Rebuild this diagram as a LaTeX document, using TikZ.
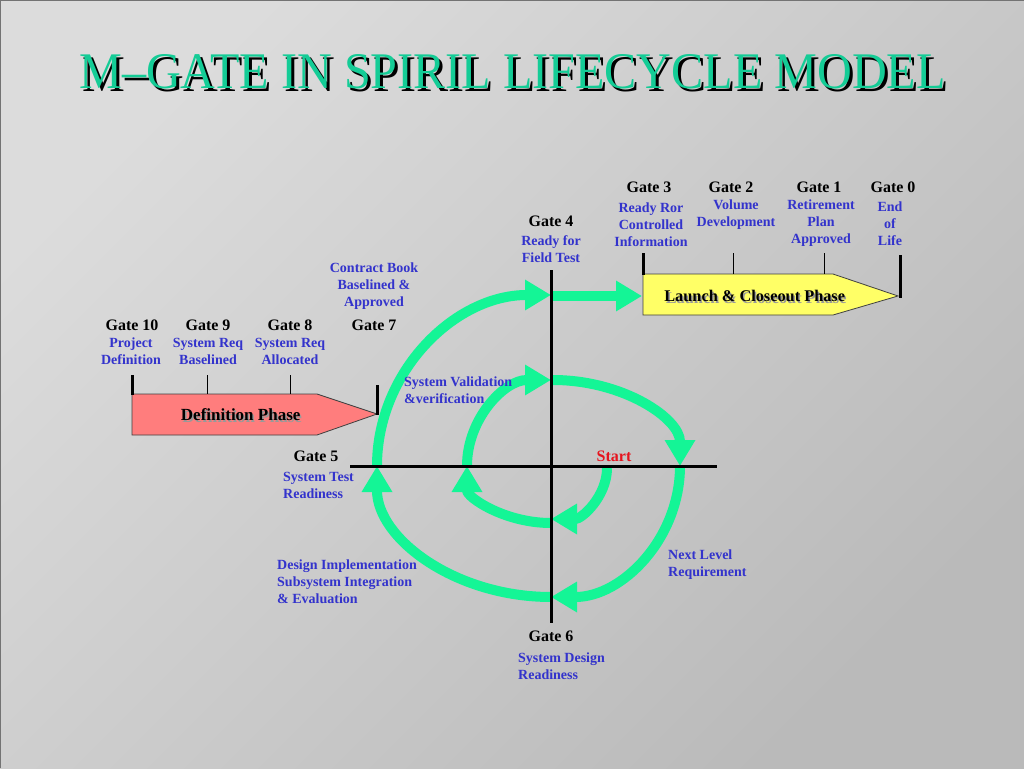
\documentclass[tikz,border=0pt]{standalone}
\usepackage{graphicx}
\usepackage{fontspec}
\setmainfont{Liberation Serif}
\usetikzlibrary{arrows.meta}
\definecolor{bluetxt}{RGB}{51,51,204}
\definecolor{spiral}{RGB}{20,245,150}
\definecolor{titlec}{RGB}{20,204,150}
\definecolor{pinkph}{RGB}{255,125,125}
\definecolor{yellowph}{RGB}{255,255,102}
\definecolor{redtxt}{RGB}{230,20,30}
\definecolor{bgtl}{RGB}{220,220,220}
\definecolor{bgbr}{RGB}{186,186,186}
\newcommand{\shadowtext}[4]{\makebox[0pt][l]{\hspace*{#2}\raisebox{-#2}{\color{#1}#4}}{\color{#3}#4}}
\newcommand{\ttltext}{\resizebox{866pt}{34pt}{M–GATE IN SPIRIL LIFECYCLE MODEL}}
\begin{document}
\begin{tikzpicture}[x=1pt,y=-1pt,
  gate/.style={font=\fontsize{16}{19}\selectfont\bfseries, text=black, inner sep=0pt},
  desc/.style={font=\fontsize{14}{17}\selectfont\bfseries, text=bluetxt, inner sep=0pt, align=center},
  descl/.style={desc, align=left, anchor=west},
  spir/.style={draw=spiral, line width=10pt, -{Triangle[width=29pt,length=26pt]}},
  axisline/.style={draw=black, line width=3pt},
  thickbar/.style={draw=black, line width=3pt},
  thinbar/.style={draw=black, line width=0.8pt},
  phase/.style={draw=black!75, line width=0.8pt},
  phtext/.style={font=\fontsize{17}{20}\selectfont\bfseries, inner sep=0pt},
  ttl/.style={inner sep=0pt}
]
\useasboundingbox (0,0) rectangle (1024,768);
\shade[shading=axis, top color=bgtl, bottom color=bgbr, shading angle=45] (0,0) rectangle (1024,768);
\draw[black!55, line width=1pt] (0.5,768) -- (0.5,0.5) -- (1024,0.5);

% title (with its shadow in the same node)
\node[ttl] (title) at (512.5,73.5) {\shadowtext{black}{3pt}{titlec}{\ttltext}};

% coordinates of the spiral
\coordinate (s1) at (607,468);
\coordinate (s2) at (551,523);
\coordinate (s3) at (467,466);
\coordinate (s4) at (553,380);
\coordinate (s5) at (680,466);
\coordinate (s6) at (551,597);
\coordinate (s7) at (377,466);
\coordinate (s8) at (553,296);
\coordinate (launchW) at (642,296);

% spiral arrows
\draw[spir] (s1) arc[start angle=0, end angle=90, x radius=56, y radius=51];
\draw[spir] (s2) arc[start angle=90, end angle=180, x radius=84, y radius=57];
\draw[spir] (s3) arc[start angle=180, end angle=270, x radius=84, y radius=86];
\draw[spir] (s4) arc[start angle=270, end angle=360, x radius=127, y radius=86];
\draw[spir] (s5) arc[start angle=0, end angle=90, x radius=129, y radius=131];
\draw[spir] (s6) arc[start angle=90, end angle=180, x radius=174, y radius=131];
\draw[spir] (s7) arc[start angle=180, end angle=270, x radius=174, y radius=171];
\draw[spir] (s8) -- (launchW);

% axes
\coordinate (axL) at (350,466);
\coordinate (axR) at (717,466);
\coordinate (axT) at (551,270);
\coordinate (axB) at (551,623);
\draw[axisline] (axL) -- (axR);
\draw[axisline] (axT) -- (axB);

% definition phase
\draw[phase, fill=pinkph] (132,394) -- (317,394) -- (377,414) -- (317,435) -- (132,435) -- cycle;
\draw[thickbar] (132,375) -- (132,395);
\draw[thinbar] (207,375) -- (207,394);
\draw[thinbar] (290,375) -- (290,394);
\draw[thickbar] (377,385) -- (377,415);
\node[phtext] (defphase) at (240.7,415.7) {\shadowtext{black!40}{1.5pt}{black}{Definition Phase}};

% launch phase
\draw[phase, fill=yellowph] (643,274) -- (833,274) -- (898,296) -- (833,315) -- (643,315) -- cycle;
\draw[thickbar] (643,253) -- (643,275);
\draw[thinbar] (733,253) -- (733,274);
\draw[thinbar] (824,253) -- (824,274);
\draw[thickbar] (900,255) -- (900,298);
\node[phtext, font=\fontsize{16.3}{19}\selectfont\bfseries] (launchphase) at (754.7,296.7) {\shadowtext{black!40}{1.5pt}{black}{Launch \& Closeout Phase}};

% gate labels
\node[gate] (g10) at (132,325) {Gate 10};
\node[gate] (g9) at (208,325) {Gate 9};
\node[gate] (g8) at (290,325) {Gate 8};
\node[gate] (g7) at (374,325) {Gate 7};
\node[gate] (g3) at (649,187) {Gate 3};
\node[gate] (g2) at (731,187) {Gate 2};
\node[gate] (g1) at (819,187) {Gate 1};
\node[gate] (g0) at (893,187) {Gate 0};
\node[gate] (g4) at (551,221) {Gate 4};
\node[gate] (g5) at (316,456) {Gate 5};
\node[gate] (g6) at (551,636) {Gate 6};
\node[gate, text=redtxt] (start) at (614,456) {Start};

% descriptions
\node[desc] (d10) at (131,351) {Project\\Definition};
\node[desc] (d9) at (208,351) {System Req\\Baselined};
\node[desc] (d8) at (290,351) {System Req\\Allocated};
\node[desc] (d7) at (374,286) {Contract Book\\Baselined \&\\Approved};
\node[desc] (d3) at (651,224.5) {Ready Ror\\Controlled\\Information};
\node[desc] (d2) at (736,215) {Volume\\Development};
\node[desc] (d1) at (821,223.5) {Retirement\\Plan\\Approved};
\node[desc] (d0) at (890,223.5) {End\\of\\Life};
\node[desc] (d4) at (551,249) {Ready for\\Field Test};
\node[descl] (d5) at (283,485) {System Test\\Readiness};
\node[descl] (d6) at (518,666) {System Design\\Readiness};
\node[descl] (dval) at (404,390) {System Validation\\\&verification};
\node[descl] (dimp) at (277,581.5) {Design Implementation\\Subsystem Integration\\\& Evaluation};
\node[descl] (dnext) at (668,565) {Next Level\\Requirement};
\end{tikzpicture}
\end{document}
